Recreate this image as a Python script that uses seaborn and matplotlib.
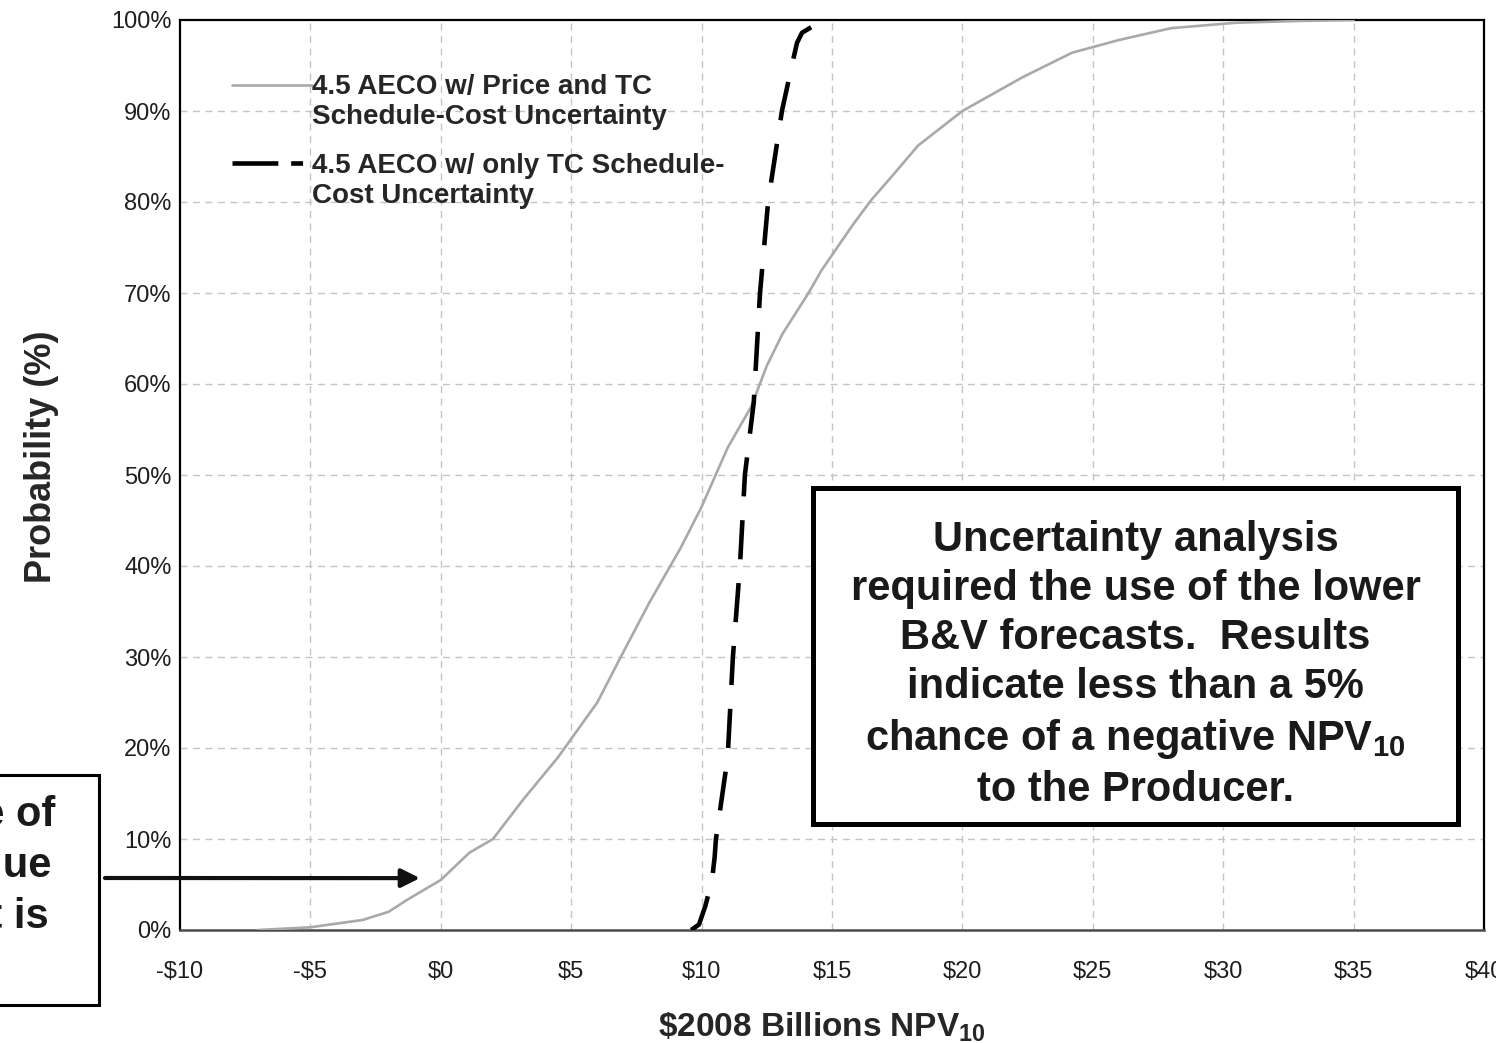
import numpy as np
import pandas as pd
import matplotlib
matplotlib.use("Agg")
import matplotlib.pyplot as plt
import seaborn as sns
from matplotlib.patches import Rectangle
from matplotlib.lines import Line2D

# Cumulative probability (%) of the producer NPV10 ($2008 billions)
npv_price_tc = [-7.0, -5.0, -3.0, -2.0, -1.3, 0.0, 1.1, 2.0, 3.15, 4.5, 6.0, 6.9,
                8.0, 9.2, 10.0, 11.0, 11.9, 12.5, 13.1, 14.1, 14.6, 15.2, 15.8,
                16.5, 17.35, 18.3, 20.0, 22.3, 24.2, 26.0, 28.0, 30.5, 33.0, 35.0]
prob_price_tc = [0.0, 0.3, 1.1, 2.0, 3.3, 5.5, 8.5, 10.0, 14.3, 19.0, 25.0, 30.0,
                 36.0, 42.0, 46.5, 53.0, 57.5, 62.0, 65.5, 70.0, 72.5, 75.0, 77.5,
                 80.2, 83.0, 86.2, 90.0, 93.7, 96.4, 97.8, 99.1, 99.7, 99.9, 100.0]

npv_tc_only = [9.6, 9.9, 10.15, 10.4, 10.5, 10.55, 11.0, 11.2, 11.47, 11.66, 12.0,
               12.24, 12.55, 13.08, 13.5, 13.66, 13.85, 14.2]
prob_tc_only = [0.0, 0.6, 2.7, 5.5, 8.0, 10.0, 19.0, 30.0, 40.0, 50.0, 58.0,
                70.0, 80.0, 90.0, 95.5, 97.5, 98.6, 99.2]

series_labels = ["4.5 AECO w/ Price and TC\nSchedule-Cost Uncertainty",
                 "4.5 AECO w/ only TC Schedule-\nCost Uncertainty"]

x_ticks = list(range(-10, 41, 5))
x_tick_labels = ["-$10", "-$5", "$0", "$5", "$10", "$15", "$20", "$25", "$30", "$35", "$40"]
y_ticks = list(range(0, 101, 10))
y_tick_labels = [f"{v}%" for v in y_ticks]

box_text = ("Uncertainty analysis\nrequired the use of the lower\nB&V forecasts.  Results\n"
            "indicate less than a 5%\nchance of a negative NPV$_{10}$\nto the Producer.")
side_lines = ["5% chance of", "negative value", "as shown it is"]

sns.set_theme(style="white")
plt.rcParams["font.family"] = ["Liberation Sans", "DejaVu Sans"]
plt.rcParams["mathtext.fontset"] = "custom"
plt.rcParams["mathtext.rm"] = "Liberation Sans"
plt.rcParams["mathtext.bf"] = "Liberation Sans:bold"
plt.rcParams["mathtext.default"] = "bf"

W, H = 1496, 1043
fig = plt.figure(figsize=(W / 100, H / 100), dpi=100)
L, R, B, T = 180, 1484, 930, 20
AW, AH = R - L, B - T
ax = fig.add_axes([L / W, 1 - B / H, AW / W, AH / H])

grid_kw = dict(color="#c4c4c4", lw=1.0, ls=(0, (5, 4)), zorder=0)
for v in y_ticks[1:-1]:
    ax.axhline(v, **grid_kw)
for v in x_ticks[1:-1]:
    ax.axvline(v, **grid_kw)

sns.lineplot(x=npv_price_tc, y=prob_price_tc, ax=ax, color="#a9a9a9", lw=1.9,
             estimator=None, legend=False, zorder=3)
sns.lineplot(x=npv_tc_only, y=prob_tc_only, ax=ax, color="black", lw=3.3,
             estimator=None, legend=False, zorder=4)
ax.lines[-1].set_dashes((8.55, 5.2))

ax.set_xlim(-10, 40)
ax.set_ylim(0, 100)
ax.set_xticks(x_ticks)
ax.set_xticklabels(x_tick_labels)
ax.set_yticks(y_ticks)
ax.set_yticklabels(y_tick_labels)
ax.tick_params(axis="x", length=0, pad=22, labelsize=17, colors="#1e1e1e")
ax.tick_params(axis="y", length=0, pad=6, labelsize=17, colors="#1e1e1e")

for side in ["left", "top", "right"]:
    ax.spines[side].set_color("black")
    ax.spines[side].set_linewidth(1.6)
ax.spines["bottom"].set_color("#4a4a4a")
ax.spines["bottom"].set_linewidth(1.8)

ax.set_xlabel(r"\$2008 Billions NPV$_{10}$", fontsize=24, fontweight="bold")
ax.xaxis.set_label_coords((822 - L) / AW, (B - 1027) / AH)
ax.xaxis.label.set_va("center")
ax.set_ylabel("Probability (%)", fontsize=26, fontweight="bold")
ax.yaxis.set_label_coords((42 - L) / AW, (B - 457) / AH)
ax.yaxis.label.set_va("center")

# legend drawn as keys plus bold two-line labels
key_x = [52 / AW, 132 / AW]
k1 = Line2D(key_x, [(B - 85) / AH] * 2, transform=ax.transAxes, color="#a9a9a9", lw=1.9)
k2 = Line2D(key_x, [(B - 163) / AH] * 2, transform=ax.transAxes, color="black", lw=3.3)
k2.set_dashes((10, 2.8, 2.6, 3))
ax.add_line(k1)
ax.add_line(k2)
ax.text(132 / AW, (B - 102) / AH, series_labels[0], transform=ax.transAxes,
        fontsize=20, fontweight="bold", va="center", ha="left", linespacing=1.24)
ax.text(132 / AW, (B - 181) / AH, series_labels[1], transform=ax.transAxes,
        fontsize=20, fontweight="bold", va="center", ha="left", linespacing=1.24)

# callout box with conclusions
bx0, by0, bx1, by1 = 813, 488, 1458, 824
fig.patches.append(Rectangle((bx0 / W, 1 - by1 / H), (bx1 - bx0) / W, (by1 - by0) / H,
                             transform=fig.transFigure, facecolor="white",
                             edgecolor="black", lw=3.6, zorder=5))
fig.text((bx0 + bx1) / 2 / W, 1 - 665 / H, box_text, ha="center", va="center",
         fontsize=30, fontweight="bold", color="#1a1a1a", linespacing=1.29, zorder=6)

# side note box (runs off the left edge) with arrow to the curve
fig.patches.append(Rectangle((-30 / W, 1 - 1005 / H), 129 / W, 230 / H,
                             transform=fig.transFigure, facecolor="white",
                             edgecolor="black", lw=2.2, zorder=5))
for line, xr, yc in zip(side_lines, [55, 51, 49], [815, 866, 917]):
    fig.text(xr / W, 1 - yc / H, line, ha="right", va="center",
             fontsize=30, fontweight="bold", color="#1a1a1a", zorder=6)
ax.annotate("", xy=(-0.8, 5.7), xycoords="data",
            xytext=(105, H - 878), textcoords="figure pixels",
            arrowprops=dict(arrowstyle="-|>", color="#111111", lw=3.0,
                            mutation_scale=28, shrinkA=0, shrinkB=0),
            annotation_clip=False, zorder=6)

fig.savefig("out.png", dpi=100)
